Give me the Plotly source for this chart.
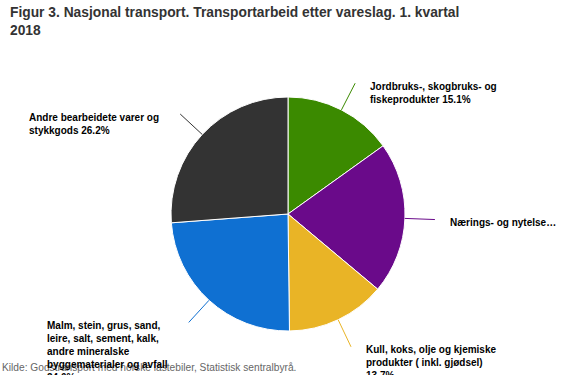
import math
import textwrap
import plotly.graph_objects as go

# ---- data ----
categories = [
    "Jordbruks-, skogbruks- og fiskeprodukter",
    "Nærings- og nytelsesmidler",
    "Kull, koks, olje og kjemiske produkter ( inkl. gjødsel)",
    "Malm, stein, grus, sand, leire, salt, sement, kalk, andre mineralske byggematerialer og avfall",
    "Andre bearbeidete varer og stykkgods",
]
values = [15.1, 21.0, 13.7, 24.0, 26.2]
colors = ["#3b8a00", "#6a0a8a", "#e9b426", "#0f70d2", "#333333"]

title_text = "Figur 3. Nasjonal transport. Transportarbeid etter vareslag. 1. kvartal<br>2018"
source_text = "Kilde: Godstransport med norske lastebiler, Statistisk sentralbyrå."

# ---- layout constants (pixels) ----
W, H = 563, 375
cx, cy, r = 288, 214, 117
conn_len = 30
wrap_width = 28
truncate_at = {1: 19}   # label shown truncated with ellipsis
FONT = "Liberation Sans, Arial, sans-serif"
LABEL_SIZE = 10


def px(x):
    return x / W


def py(y):
    return 1 - y / H


fig = go.Figure(
    go.Pie(
        labels=categories,
        values=values,
        sort=False,
        direction="clockwise",
        rotation=0,
        marker=dict(colors=colors, line=dict(color="white", width=1)),
        textinfo="none",
        hoverinfo="label+percent",
        domain=dict(x=[px(cx - r), px(cx + r)], y=[py(cy + r), py(cy - r)]),
        showlegend=False,
    )
)

annotations = [
    dict(text=source_text, x=px(0), y=py(367), xref="paper", yref="paper",
         xanchor="left", yanchor="middle", showarrow=False,
         font=dict(family=FONT, size=10.2, color="#666666")),
    dict(text="<b>" + title_text + "</b>", x=px(8), y=py(3), xref="paper", yref="paper",
         xanchor="left", yanchor="top", align="left", showarrow=False,
         font=dict(family=FONT, size=13.8, color="#333333")),
]
shapes = []

total = sum(values)
cum = 0.0
for i, (name, v, col) in enumerate(zip(categories, values, colors)):
    mid = (cum + v / 2) / total * 2 * math.pi
    cum += v
    sx, sy = cx + r * math.sin(mid), cy - r * math.cos(mid)
    ex, ey = cx + (r + conn_len) * math.sin(mid), cy - (r + conn_len) * math.cos(mid)
    shapes.append(dict(type="line", xref="paper", yref="paper",
                       x0=px(sx), y0=py(sy), x1=px(ex), y1=py(ey),
                       line=dict(color=col, width=1)))
    if i in truncate_at:
        label = name[:truncate_at[i]] + "…"
    else:
        label = "<br>".join(textwrap.wrap(f"{name} {v:.1f}%", wrap_width))
    right = math.sin(mid) > 0
    annotations.append(dict(
        text="<b>" + label + "</b>",
        x=px(ex + 13) if right else px(ex - 19),
        y=py(ey - 4.5),
        xref="paper", yref="paper",
        xanchor="left" if right else "right",
        yanchor="top", align="left", showarrow=False,
        font=dict(family=FONT, size=LABEL_SIZE, color="#000000"),
    ))

fig.update_layout(
    width=W, height=H,
    margin=dict(l=0, r=0, t=0, b=0),
    paper_bgcolor="white",
    plot_bgcolor="white",
    annotations=annotations,
    shapes=shapes,
)

fig.write_html(
    "out.html",
    config={"displayModeBar": False},
    post_script="document.body.style.margin='0';document.body.style.overflow='hidden';",
)
